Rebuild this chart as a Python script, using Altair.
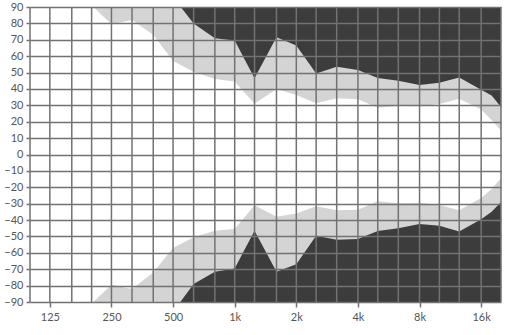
import altair as alt
import pandas as pd

# third-octave grid frequencies (Hz)
grid_freqs = [100, 125, 160, 200, 250, 315, 400, 500, 630, 800, 1000, 1250, 1600,
              2000, 2500, 3150, 4000, 5000, 6300, 8000, 10000, 12500, 16000, 20000]
# labelled octave ticks
tick_freqs = [125, 250, 500, 1000, 2000, 4000, 8000, 16000]
y_ticks = list(range(-90, 91, 10))

# light band (outer boundary)
light_freq = [200, 250, 315, 400, 500, 630, 800, 1000, 1250, 1600, 2000, 2500, 3150,
              4000, 5000, 6300, 8000, 10000, 12500, 16000, 18000, 20000]
light_upper = [91, 79.5, 82, 73, 57, 50.5, 46, 44.5, 31, 40, 36.3, 31.2, 34.3,
               33.7, 28.5, 29.8, 29.5, 30.8, 34, 27.5, 21, 14.5]
light_lower = [-91, -79.5, -82, -72, -57, -50.5, -46.5, -45.5, -31, -38, -36, -31.5, -34,
               -33.7, -28.5, -29.8, -29.5, -30.8, -34, -26.5, -21, -14.5]

# dark region (inner boundary)
dark_freq = [500, 630, 800, 1000, 1250, 1600, 2000, 2500, 3150, 4000, 5000, 6300,
             8000, 10000, 12500, 16000, 18000, 20000]
dark_upper = [96, 80, 71, 69.5, 46.5, 71.5, 66.5, 49.5, 53.6, 51.5, 46.7, 45,
              42.4, 43.8, 47, 39.5, 36, 29]
dark_lower = [-96, -79, -71.5, -69.5, -46.5, -71.5, -67, -49.5, -52, -51.5, -46.7, -45,
              -42.4, -43.5, -47, -39.5, -35, -29]

DARK = "#3c3c3c"
LIGHT = "#d4d4d4"
GRID = "#727272"
FONT = "Lato"

light_df = pd.DataFrame({"f": light_freq + light_freq,
                         "v": light_upper + light_lower,
                         "edge": [90] * len(light_freq) + [-90] * len(light_freq),
                         "side": ["up"] * len(light_freq) + ["down"] * len(light_freq)})
dark_df = pd.DataFrame({"f": dark_freq + dark_freq,
                        "v": dark_upper + dark_lower,
                        "edge": [90] * len(dark_freq) + [-90] * len(dark_freq),
                        "side": ["up"] * len(dark_freq) + ["down"] * len(dark_freq)})
grid_df = pd.DataFrame({"f": grid_freqs})

xscale = alt.Scale(type="log", domain=[100, 20000], nice=False)
yscale = alt.Scale(domain=[-90, 90], nice=False, zero=False)

xaxis = alt.Axis(values=tick_freqs, grid=False, domain=False, title=None,
                 labelExpr="datum.value >= 1000 ? (datum.value / 1000) + 'k' : '' + datum.value",
                 tickSize=5, tickColor=GRID, tickWidth=1.5, labelPadding=4,
                 labelFont=FONT, labelFontSize=11, labelColor="#555555",
                 labelOverlap=False, labelFlush=False)
yaxis = alt.Axis(values=y_ticks, grid=True, gridColor=GRID, gridWidth=1.5,
                 gridOpacity=1, domain=False, title=None, tickSize=4,
                 tickColor=GRID, tickWidth=1.5, labelPadding=3,
                 labelFont=FONT, labelFontSize=11, labelColor="#555555",
                 zindex=1)

X = alt.X("f:Q", scale=xscale, axis=xaxis)
Y = alt.Y("v:Q", scale=yscale, axis=yaxis)

light = alt.Chart(light_df).mark_area(color=LIGHT, clip=True, interpolate="linear").encode(
    x=X, y=Y, y2="edge:Q", detail="side:N")
dark = alt.Chart(dark_df).mark_area(color=DARK, clip=True, interpolate="linear").encode(
    x=X, y=Y, y2="edge:Q", detail="side:N")
vgrid = alt.Chart(grid_df).mark_rule(color=GRID, strokeWidth=1.5).encode(x=X)

chart = alt.layer(light, dark, vgrid).properties(
    width=471, height=295,
    padding={"left": 30, "top": 7, "right": 14, "bottom": 33},
    autosize=alt.AutoSizeParams(type="none"),
).configure_view(stroke=None)

chart.save("out.html", embed_options={"renderer": "svg", "actions": False})
